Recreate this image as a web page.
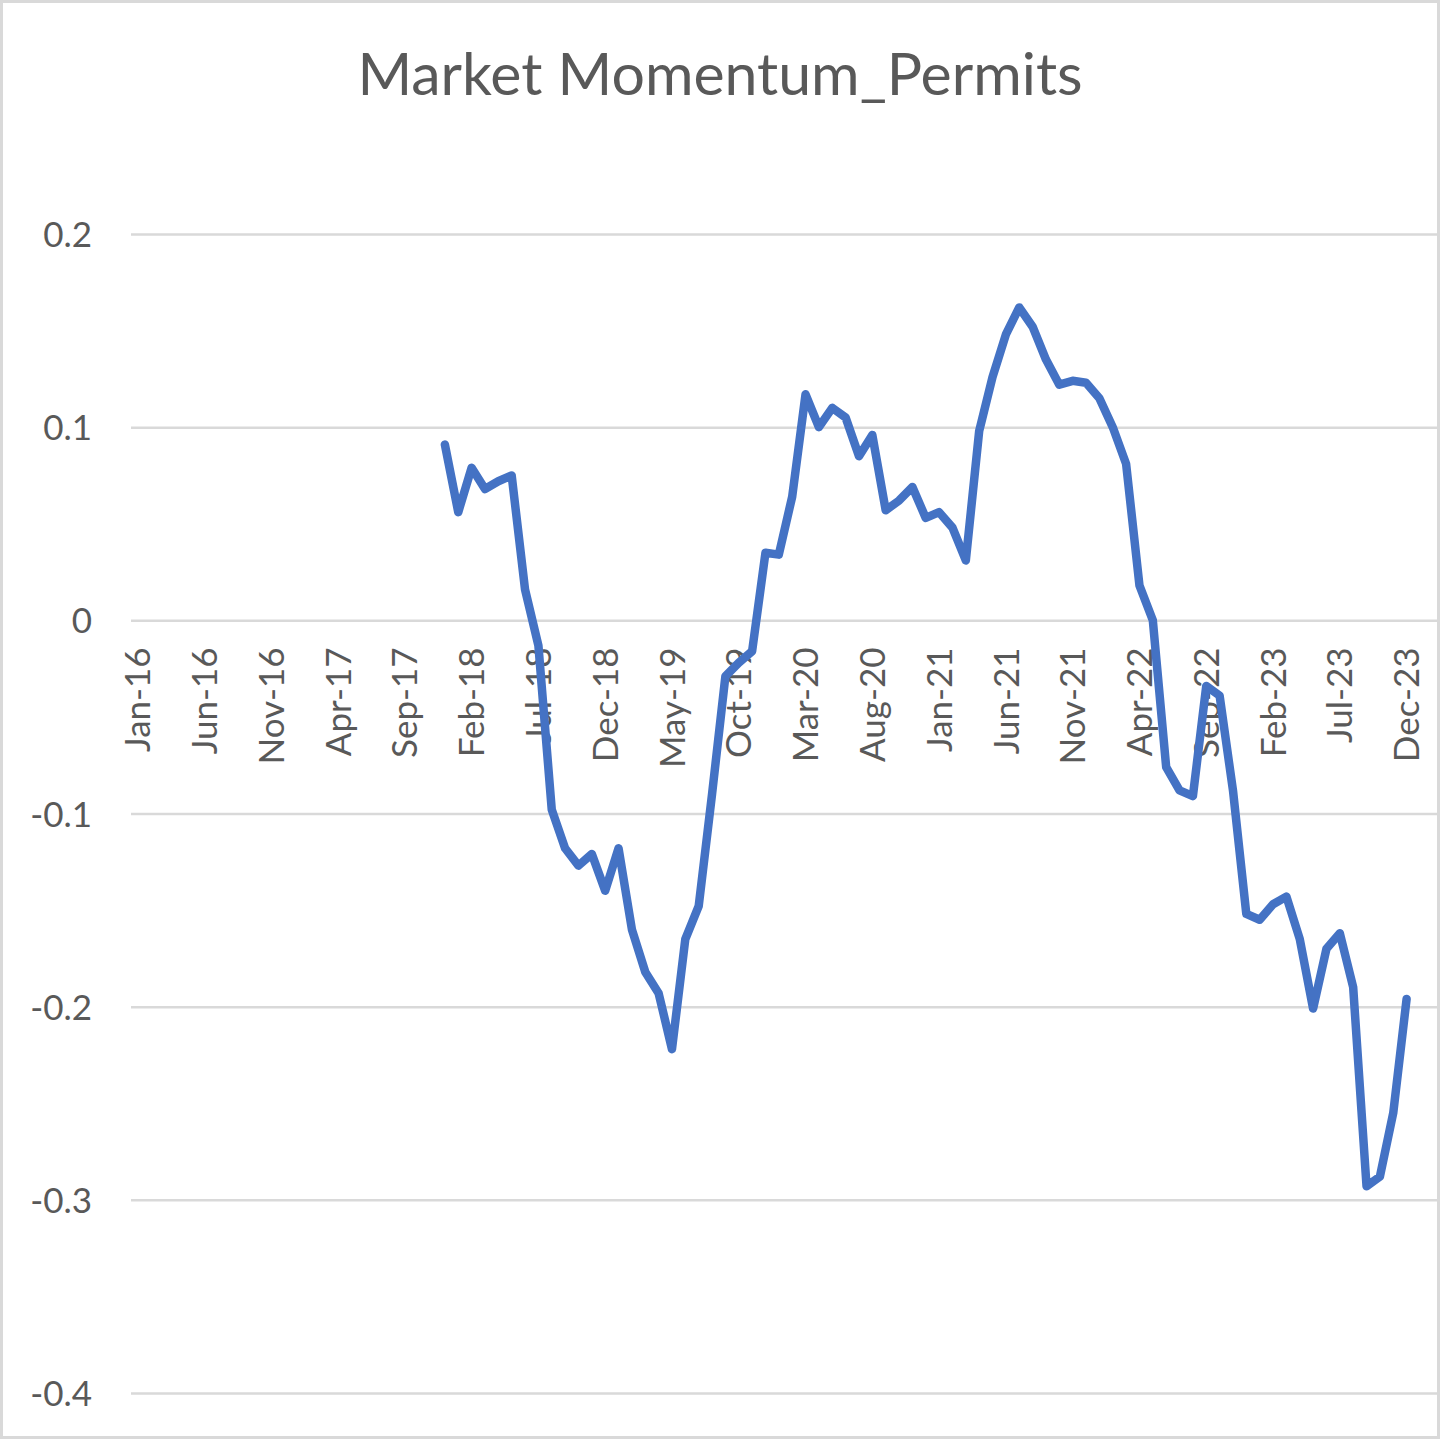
<!DOCTYPE html>
<html>
  <head>
    <meta charset="UTF-8" />
    <style>
      body {
        margin: 0;
        background: #fff;
      }
      svg {
        display: block;
      }
      svg text {
        font-family: Lato, "Open Sans", sans-serif;
      }
    </style>
  </head>
  <body>
    <svg></svg>
    <script src="https://d3js.org/d3.v7.min.js"></script>

    <script>
      let width = 1441,
        height = 1440;

      // months on the category axis: Jan-16 .. Feb-24
      const fmt = d3.timeFormat("%b-%y");
      const categories = d3
        .timeMonths(new Date(2016, 0, 1), new Date(2024, 2, 1))
        .map(fmt);

      // series starts in Dec-17
      const startMonth = "Dec-17";
      const values = [
        0.091, 0.056, 0.079, 0.068, 0.072, 0.075, 0.016, -0.013, -0.098,
        -0.118, -0.127, -0.121, -0.14, -0.118, -0.16, -0.182, -0.193, -0.222,
        -0.165, -0.148, -0.09, -0.029, -0.022, -0.016, 0.035, 0.034, 0.064,
        0.117, 0.1, 0.11, 0.105, 0.085, 0.096, 0.057, 0.062, 0.069, 0.053,
        0.056, 0.048, 0.031, 0.098, 0.126, 0.148, 0.162, 0.152, 0.135, 0.122,
        0.124, 0.123, 0.115, 0.1, 0.081, 0.018, 0.0, -0.076, -0.088, -0.091,
        -0.034, -0.039, -0.088, -0.152, -0.155, -0.147, -0.143, -0.165, -0.201,
        -0.17, -0.162, -0.19, -0.293, -0.288, -0.255, -0.196,
      ];

      const yTicks = [0.2, 0.1, 0, -0.1, -0.2, -0.3, -0.4];
      const yTickLabels = ["0.2", "0.1", "0", "-0.1", "-0.2", "-0.3", "-0.4"];
      const title = "Market Momentum_Permits";

      let svg = d3
        .select("svg")
        .attr("width", width)
        .attr("height", height)
        .attr("viewBox", "0 0 " + width + " " + height);

      // chart border
      svg
        .append("rect")
        .attr("x", 1.5)
        .attr("y", 1.5)
        .attr("width", width - 4)
        .attr("height", height - 4)
        .attr("fill", "#fff")
        .attr("stroke", "#d9d9d9")
        .attr("stroke-width", 3);

      const plotLeft = 131,
        plotRight = 1440,
        plotTop = 234,
        plotBottom = 1393;

      const x = d3
        .scaleBand()
        .domain(categories)
        .range([plotLeft, plotRight]);
      const xc = (c) => x(c) + x.bandwidth() / 2;

      const y = d3
        .scaleLinear()
        .domain([-0.4, 0.2])
        .range([plotBottom, plotTop]);

      // gridlines + y labels
      let yAxis = svg
        .append("g")
        .attr("transform", "translate(" + plotLeft + ",0)")
        .call(
          d3
            .axisLeft(y)
            .tickValues(yTicks)
            .tickFormat((d, i) => yTickLabels[i])
            .tickSize(-(1437 - plotLeft))
            .tickPadding(39)
        );
      yAxis.attr("font-family", null);
      yAxis.select(".domain").remove();
      yAxis
        .selectAll("line")
        .attr("stroke", "#d9d9d9")
        .attr("stroke-width", 2.5);
      yAxis
        .selectAll("text")
        .attr("fill", "#595959")
        .style("font-size", "35px")
        .attr("dy", "0.36em");

      // category axis at zero
      let xAxis = svg
        .append("g")
        .attr("transform", "translate(0," + y(0) + ")")
        .call(
          d3
            .axisBottom(x)
            .tickValues(categories.filter((d, i) => i % 5 == 0 && i < 96))
            .tickSize(0)
        );
      xAxis.attr("font-family", null);
      xAxis.select(".domain").remove();
      xAxis
        .selectAll("text")
        .attr("fill", "#595959")
        .style("font-size", "35px")
        .attr("text-anchor", "end")
        .attr("transform", "rotate(-90)")
        .attr("x", -27)
        .attr("y", 0)
        .attr("dy", "0.36em");

      // the line
      const startIdx = categories.indexOf(startMonth);
      const series = values.map((v, i) => ({ c: categories[startIdx + i], v: v }));

      svg
        .append("path")
        .datum(series)
        .attr("fill", "none")
        .attr("stroke", "#4472c4")
        .attr("stroke-width", 8.5)
        .attr("stroke-linejoin", "round")
        .attr("stroke-linecap", "round")
        .attr(
          "d",
          d3
            .line()
            .x((d) => xc(d.c))
            .y((d) => y(d.v))
        );

      // title
      svg
        .append("text")
        .attr("x", 720)
        .attr("y", 95)
        .attr("text-anchor", "middle")
        .attr("fill", "#595959")
        .style("font-size", "59px")
        .text(title);
    </script>
  </body>
</html>
